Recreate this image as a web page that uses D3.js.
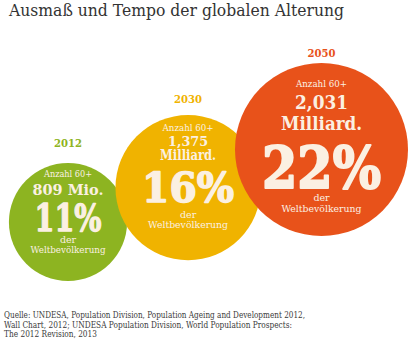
<!DOCTYPE html>
<html><head><meta charset="utf-8">
<script src="https://cdn.jsdelivr.net/npm/d3@7/dist/d3.min.js"></script>
<style>html,body{margin:0;padding:0;background:#fff;}svg{display:block;}</style>
</head><body>
<script>
const years = [2012, 2030, 2050];
const counts = ["809 Mio.", "1,375", "2,031"];
const units = ["", "Milliard.", "Milliard."];
const percents = [11, 16, 22];
const colors = ["#8db421", "#f0b300", "#e8521a"];
const title = "Ausmaß und Tempo der globalen Alterung";
const sourceLines = [
  "Quelle: UNDESA, Population Division, Population Ageing and Development 2012,",
  "Wall Chart, 2012; UNDESA Population Division, World Population Prospects:",
  "The 2012 Revision, 2013"
];

const W = 411, H = 342;
const svg = d3.select("body").append("svg").attr("width", W).attr("height", H);
const serif = "'DejaVu Serif', serif";
const cream = "#fbf0e2";

svg.append("text").attr("x", 9).attr("y", 16).attr("font-family", serif)
  .attr("font-size", 16).attr("fill", "#333").text(title)
  .attr("textLength", 335).attr("lengthAdjust", "spacingAndGlyphs");

const x = d3.scaleLinear().domain([2012, 2050]).range([68, 321.5]);
const y = d3.scaleLinear().domain([2012, 2050]).range([222, 149.5]);
const r = d3.scalePow().exponent(0.55).domain([0, 22]).range([0, 86.5]);

const data = years.map((yr, i) => ({year: yr, count: counts[i], unit: units[i], pct: percents[i], color: colors[i]}));

const layouts = [
  {yearDy: -75, lines: [
    {t: d => "Anzahl 60+", dy: -45, fs: 9.5, w: 48, bold: false},
    {t: d => d.count, dy: -27, fs: 14, w: 71, bold: true},
    {t: d => d.pct + "%", dy: 9, fs: 38, w: 67, bold: true, big: true},
    {t: d => "der", dy: 20.5, fs: 9.5, w: null, bold: false},
    {t: d => "Weltbevölkerung", dy: 30.5, fs: 9.5, w: 75, bold: false}
  ]},
  {yearDy: -85, lines: [
    {t: d => "Anzahl 60+", dy: -57, fs: 9.5, w: 51, bold: false},
    {t: d => d.count, dy: -41.5, fs: 13, w: 40, bold: true},
    {t: d => d.unit, dy: -27.5, fs: 14, w: 56, bold: true},
    {t: d => d.pct + "%", dy: 14, fs: 41, w: 92, bold: true, big: true},
    {t: d => "der", dy: 30.5, fs: 9.5, w: null, bold: false},
    {t: d => "Weltbevölkerung", dy: 40.5, fs: 9.5, w: 80, bold: false}
  ]},
  {yearDy: -92.5, lines: [
    {t: d => "Anzahl 60+", dy: -63, fs: 9.5, w: 51, bold: false},
    {t: d => d.count, dy: -41, fs: 18, w: 53, bold: true},
    {t: d => d.unit, dy: -19.5, fs: 19, w: 81, bold: true},
    {t: d => d.pct + "%", dy: 38, fs: 57, w: 119, bold: true, big: true},
    {t: d => "der", dy: 51, fs: 9.5, w: null, bold: false},
    {t: d => "Weltbevölkerung", dy: 62, fs: 9.5, w: 80, bold: false}
  ]}
];

const g = svg.selectAll("g.bub").data(data).join("g").attr("class", "bub")
  .attr("transform", d => `translate(${x(d.year)},${y(d.year)})`);

g.append("circle").attr("r", d => r(d.pct)).attr("fill", d => d.color);

g.append("text").attr("text-anchor", "middle").attr("font-family", serif)
  .attr("font-weight", "bold").attr("font-size", 11).attr("fill", d => d.color)
  .attr("y", (d, i) => layouts[i].yearDy).text(d => d.year)
  .attr("textLength", 28).attr("lengthAdjust", "spacingAndGlyphs");

g.each(function(d, i) {
  const gg = d3.select(this);
  layouts[i].lines.forEach(L => {
    const t = gg.append("text").attr("text-anchor", "middle").attr("font-family", serif)
      .attr("font-size", L.fs).attr("font-weight", L.bold ? "bold" : "normal")
      .attr("fill", cream).attr("y", L.dy).text(L.t(d));
    if (L.w) t.attr("textLength", L.w).attr("lengthAdjust", "spacingAndGlyphs");
    if (L.big) t.attr("stroke", cream).attr("stroke-width", L.fs / 28).attr("stroke-linejoin", "round");
  });
});

const srcW = [301, 288, 93];
svg.selectAll("text.src").data(sourceLines).join("text").attr("class", "src")
  .attr("x", 4).attr("y", (d, i) => 318 + i * 9.6).attr("font-family", serif)
  .attr("font-size", 8.3).attr("fill", "#3a3a3a").text(d => d)
  .attr("textLength", (d, i) => srcW[i]).attr("lengthAdjust", "spacingAndGlyphs");
</script>
</body></html>
